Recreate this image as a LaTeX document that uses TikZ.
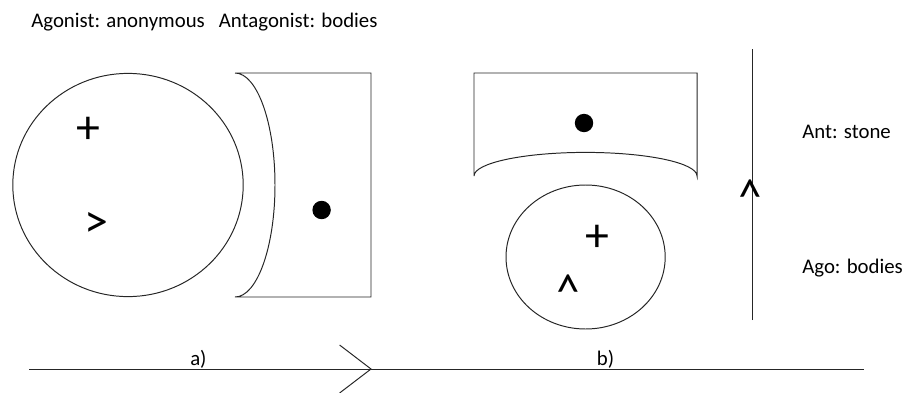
\documentclass[tikz,border=0pt]{standalone}
\usepackage{fontspec}
\setmainfont{Carlito}
\usepackage{tikz}
\usetikzlibrary{calc,positioning}
\tikzset{
  lbl/.style={font=\fontsize{14.8}{17}\selectfont,inner sep=0pt},
  sym/.style={font=\fontsize{34}{36}\selectfont,inner sep=0pt},
  caret/.style={sym,rotate=90},
  outline/.style={black!85,line width=0.7pt}
}

\begin{document}
\begin{tikzpicture}
\useasboundingbox (0,0) rectangle (22.6,9.8);
% heading
\node[lbl,anchor=base west] (head) at (0.775,9.125) {Agonist: anonymous\hspace{0.45em} Antagonist: bodies};
% a) agonist circle, antagonist block with curved side
\draw[outline] (3.2,5.175) ellipse [x radius=2.88, y radius=2.79];
\node[sym] (plusA) at (2.2,6.55) {+};
\node[sym] (arrA) at (2.42,4.175) {>};
\draw[outline] (5.875,7.975) -- (9.275,7.975) -- (9.275,2.375) -- (5.875,2.375)
  arc[start angle=-90, end angle=90, x radius=1.0, y radius=2.8];
\fill (8.04,4.55) circle (0.23);
% b) block above, circle below
\draw[outline] (11.85,5.4) -- (11.85,7.975) -- (17.425,7.975) -- (17.425,5.4)
  arc[start angle=0, end angle=180, x radius=2.7875, y radius=0.59];
\fill (14.6,6.725) circle (0.23);
\draw[outline] (14.64,3.375) ellipse [x radius=1.99, y radius=1.8];
\node[sym] (plusB) at (14.925,3.85) {+};
\node[caret] (arrB) at (14.275,2.675) {>};
% vertical force line
\coordinate (vtop) at (18.8,8.575);
\coordinate (vbot) at (18.8,1.8);
\draw[outline] (vbot) -- (vtop);
\node[caret] (arrV) at (18.825,5.05) {>};
\node[lbl,anchor=west] (ant) at (20.05,6.5) {Ant: stone};
\node[lbl,anchor=west] (ago) at (20.05,3.1) {Ago: bodies};
% time line
\coordinate (tl) at (0.725,0.575);
\coordinate (tr) at (21.6,0.575);
\coordinate (tip) at (9.275,0.575);
\draw[outline] (tl) -- (tr);
\draw[outline] (8.49,1.175) -- (tip) -- (8.49,-0.025);
\node[lbl,anchor=base] (capA) at (4.96,0.66) {a)};
\node[lbl,anchor=base] (capB) at (15.14,0.675) {b)};
\end{tikzpicture}
\end{document}
